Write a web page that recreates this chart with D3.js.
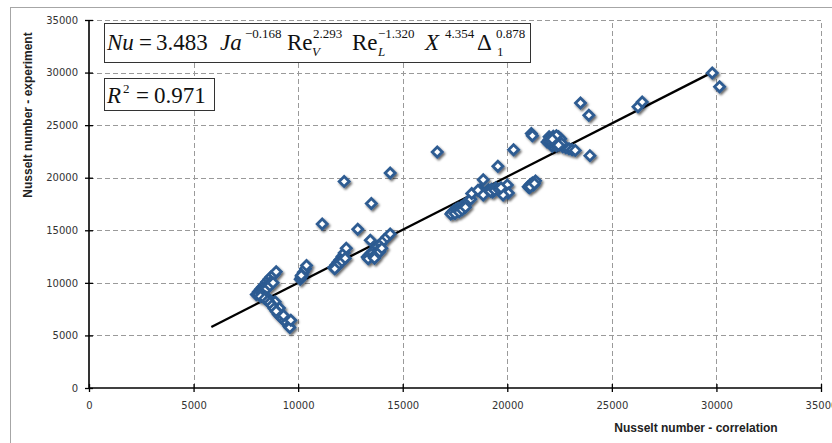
<!DOCTYPE html>
<html>
<head>
<meta charset="utf-8">
<script src="https://cdn.jsdelivr.net/npm/d3@7"></script>
<style>
  body { margin: 0; background: #fff; }
  svg { display: block; }
</style>
</head>
<body>
<div id="chart"></div>
<script>
// ticks shared by both axes
const tickValues = [0, 5000, 10000, 15000, 20000, 25000, 30000, 35000];

// Nusselt number - correlation (x) vs experiment (y)
const corrX = [
  8000, 8100, 8200, 8300, 8400, 8500, 8600, 8700, 8850, 8950,
  8150, 8250, 8400, 8550, 8700,
  8100, 8250, 8350, 8500, 8650, 8800,
  8300, 8450, 8600, 8700, 8800, 8850, 8950, 9000, 9050, 9150, 9250, 9350, 9450, 9550, 9600, 9650, 9300, 9100, 8900,
  8200, 8400, 8550, 8650, 8750, 8850, 8950,
  10100, 10150, 10200, 10250, 10350, 10400, 10150,
  11700, 11800, 11900, 12000, 12100, 12200, 12300, 11850, 12050,
  11800, 11950, 12100, 12250, 11750,
  13300, 13400, 13500, 13600, 13700, 13800, 13950, 14100, 14250, 14400, 13400, 13550, 13700, 13850, 13500,
  13350, 13600, 13750, 13900, 14000, 13650,
  11150, 12200, 12850, 13500, 13450, 14400, 16650,
  17350, 17450, 17550, 17650, 17800, 17950, 18100, 18250, 17400, 17600,
  17300, 17500, 17700, 17850, 18000,
  18300, 18700, 18850, 18600, 18850, 19100, 19300, 19450, 19550, 19800, 20000, 20050, 19800, 19250,
  19200, 19400, 19600, 19700,
  21000, 21100, 21200, 21350, 21250, 21050, 21100, 21300,
  20300, 21150, 21200,
  21900, 22000, 22100, 22200, 22300, 22450, 22550, 22650, 22800, 22950, 23100, 23250, 22150, 22400, 22250, 22050, 22600,
  22000, 22100, 22250, 22350, 22450, 22200, 22350, 22150,
  23500, 23900, 23950, 26250, 26450, 29800, 30150
];
const exptY = [
  8900, 9150, 9400, 9600, 9850, 10100, 10350, 10550, 10800, 11050,
  9000, 9200, 9500, 9800, 10100,
  8950, 9050, 9300, 9450, 9750, 10000,
  8800, 8650, 8450, 8250, 8000, 7750, 7450, 7200, 7000, 6800, 6600, 6400, 6200, 5900, 5750, 6450, 6900, 7600, 8200,
  8700, 8500, 8300, 8100, 7850, 7550, 7300,
  10350, 10550, 10750, 11000, 11350, 11650, 10700,
  11450, 11700, 11950, 12200, 12500, 12850, 13300, 11550, 12100,
  11550, 11800, 12050, 12350, 11350,
  12450, 12650, 12850, 13050, 13250, 13450, 13700, 14050, 14350, 14650, 12400, 12600, 12800, 13100, 12750,
  12300, 12500, 12700, 12950, 13300, 12350,
  15600, 19650, 15100, 17550, 14050, 20450, 22450,
  16700, 16850, 17000, 17100, 17250, 17450, 17700, 17950, 16650, 16800,
  16550, 16600, 16750, 16950, 17200,
  18500, 18850, 19800, 18800, 18350, 18850, 18650, 19050, 21100, 18650, 19300, 18550, 18350, 18900,
  18700, 18800, 18900, 19050,
  19150, 19350, 19500, 19700, 19300, 19050, 19150, 19450,
  22650, 24200, 24000,
  23400, 23900, 23700, 23200, 23800, 23900, 23700, 22950, 22850, 22750, 22650, 22600, 23000, 23300, 23500, 23300, 23250,
  23600, 23450, 23150, 23050, 23100, 23950, 24000, 23650,
  27100, 25950, 22100, 26750, 27200, 29950, 28650
];

// fitted line end points
const trendX = [5850, 29750];
const trendY = [5800, 29970];

const width = 832, height = 443;
const svg = d3.select('#chart').append('svg')
  .attr('width', width)
  .attr('height', height);

const defs = svg.append('defs');
const shadow = defs.append('filter').attr('id', 'shadow')
  .attr('x', '-50%').attr('y', '-50%').attr('width', '200%').attr('height', '200%');
shadow.append('feDropShadow')
  .attr('dx', 1.5).attr('dy', 1.8)
  .attr('stdDeviation', 0.9)
  .attr('flood-color', '#000')
  .attr('flood-opacity', 0.6);

// outer chart frame
svg.append('rect')
  .attr('x', 10.5).attr('y', 7.5)
  .attr('width', 840).attr('height', 460)
  .attr('fill', 'none')
  .attr('stroke', '#a6a6a6');

const x = d3.scaleLinear().domain([0, 35000]).range([89, 821]);
const y = d3.scaleLinear().domain([0, 35000]).range([388, 20]);

// grid
const grid = svg.append('g').attr('stroke', '#9a9a9a').attr('stroke-dasharray', '5,3').attr('stroke-width', 1);
grid.selectAll('.gx').data(tickValues.slice(1)).enter().append('line')
  .attr('x1', d => Math.round(x(d)) + 0.5).attr('x2', d => Math.round(x(d)) + 0.5)
  .attr('y1', y(0)).attr('y2', y(35000));
grid.selectAll('.gy').data(tickValues.slice(1)).enter().append('line')
  .attr('y1', d => Math.round(y(d)) + 0.5).attr('y2', d => Math.round(y(d)) + 0.5)
  .attr('x1', x(0)).attr('x2', x(35000));

// axes
const xAxis = svg.append('g')
  .attr('transform', `translate(0,${y(0)})`)
  .call(d3.axisBottom(x).tickValues(tickValues).tickFormat(d3.format('d')).tickSize(4).tickPadding(10));
const yAxis = svg.append('g')
  .attr('transform', `translate(${x(0)},0)`)
  .call(d3.axisLeft(y).tickValues(tickValues).tickFormat(d3.format('d')).tickSize(4).tickPadding(7));

[xAxis, yAxis].forEach(g => {
  g.select('.domain').attr('stroke', '#000').attr('stroke-width', 1.6);
  g.selectAll('.tick line').attr('stroke', '#000').attr('stroke-width', 1.3);
  g.selectAll('.tick text')
    .attr('font-family', 'DejaVu Sans, sans-serif')
    .attr('font-size', 10)
    .attr('fill', '#333');
});
xAxis.selectAll('.tick line').attr('y1', -4);
yAxis.selectAll('.tick line').attr('x1', 4);
xAxis.select('.domain').attr('d', `M${x(0)},0H${x(35000)}`);
yAxis.select('.domain').attr('d', `M0,${y(0)}V${y(35000)}`);

// axis titles
svg.append('text')
  .attr('x', 696).attr('y', 432)
  .attr('text-anchor', 'middle')
  .attr('font-family', 'Liberation Sans, Arial, sans-serif')
  .attr('font-weight', 'bold')
  .attr('font-size', 12)
  .attr('fill', '#222')
  .text('Nusselt number - correlation');
svg.append('text')
  .attr('transform', 'translate(32,115) rotate(-90)')
  .attr('text-anchor', 'middle')
  .attr('font-family', 'Liberation Sans, Arial, sans-serif')
  .attr('font-weight', 'bold')
  .attr('font-size', 12)
  .attr('fill', '#222')
  .text('Nusselt number - experiment');

// fitted line
svg.append('line')
  .attr('x1', x(trendX[0])).attr('y1', y(trendY[0]))
  .attr('x2', x(trendX[1])).attr('y2', y(trendY[1]))
  .attr('stroke', '#000').attr('stroke-width', 2.3);

// points
const pts = corrX.map((d, i) => ({ x: d, y: exptY[i] }));
const r = 5;
svg.append('g').attr('filter', 'url(#shadow)')
  .selectAll('.pt').data(pts).enter().append('path')
  .attr('class', 'pt')
  .attr('d', d => {
    const cx = x(d.x), cy = y(d.y);
    return `M${cx},${cy - r}L${cx + r},${cy}L${cx},${cy + r}L${cx - r},${cy}Z`;
  })
  .attr('fill', '#fff')
  .attr('stroke', '#2d5b92')
  .attr('stroke-width', 2.8);

// equation box
const serif = 'Liberation Serif, Times New Roman, serif';
svg.append('rect')
  .attr('x', 104.5).attr('y', 23.5).attr('width', 426).attr('height', 39)
  .attr('fill', '#fff').attr('stroke', '#333').attr('stroke-width', 1);
const eq = svg.append('text')
  .attr('font-family', serif).attr('fill', '#111');
const pieces = [
  { t: 'Nu', x: 107, dy: 0, it: true, s: 23 },
  { t: '=', x: 139, dy: 0, it: false, s: 23 },
  { t: '3.483', x: 156, dy: 0, it: false, s: 23 },
  { t: 'Ja', x: 220, dy: 0, it: true, s: 23 },
  { t: '\u22120.168', x: 245, dy: -12, it: false, s: 13 },
  { t: 'Re', x: 287, dy: 0, it: false, s: 23 },
  { t: '2.293', x: 313, dy: -12, it: false, s: 13 },
  { t: 'V', x: 312, dy: 6, it: true, s: 13 },
  { t: 'Re', x: 352, dy: 0, it: false, s: 23 },
  { t: '\u22121.320', x: 378, dy: -12, it: false, s: 13 },
  { t: 'L', x: 378, dy: 6, it: true, s: 13 },
  { t: 'X', x: 425, dy: 0, it: true, s: 23 },
  { t: '4.354', x: 445, dy: -12, it: false, s: 13 },
  { t: '\u0394', x: 477, dy: 0, it: false, s: 23 },
  { t: '0.878', x: 496, dy: -12, it: false, s: 13 },
  { t: '1', x: 497, dy: 6, it: false, s: 13 }
];
pieces.forEach(p => {
  eq.append('tspan')
    .attr('x', p.x).attr('y', 50 + p.dy)
    .attr('font-size', p.s)
    .attr('font-style', p.it ? 'italic' : 'normal')
    .text(p.t);
});

// R^2 box
svg.append('rect')
  .attr('x', 104.5).attr('y', 78.5).attr('width', 110).attr('height', 32)
  .attr('fill', '#fff').attr('stroke', '#333').attr('stroke-width', 1);
const r2 = svg.append('text')
  .attr('font-family', serif).attr('font-size', 23).attr('fill', '#111');
r2.append('tspan').attr('x', 107).attr('y', 103).attr('font-style', 'italic').text('R');
r2.append('tspan').attr('x', 123).attr('y', 93).attr('font-size', 13).text('2');
r2.append('tspan').attr('x', 136).attr('y', 103).text('=');
r2.append('tspan').attr('x', 154).attr('y', 103).text('0.971');
</script>
</body>
</html>
